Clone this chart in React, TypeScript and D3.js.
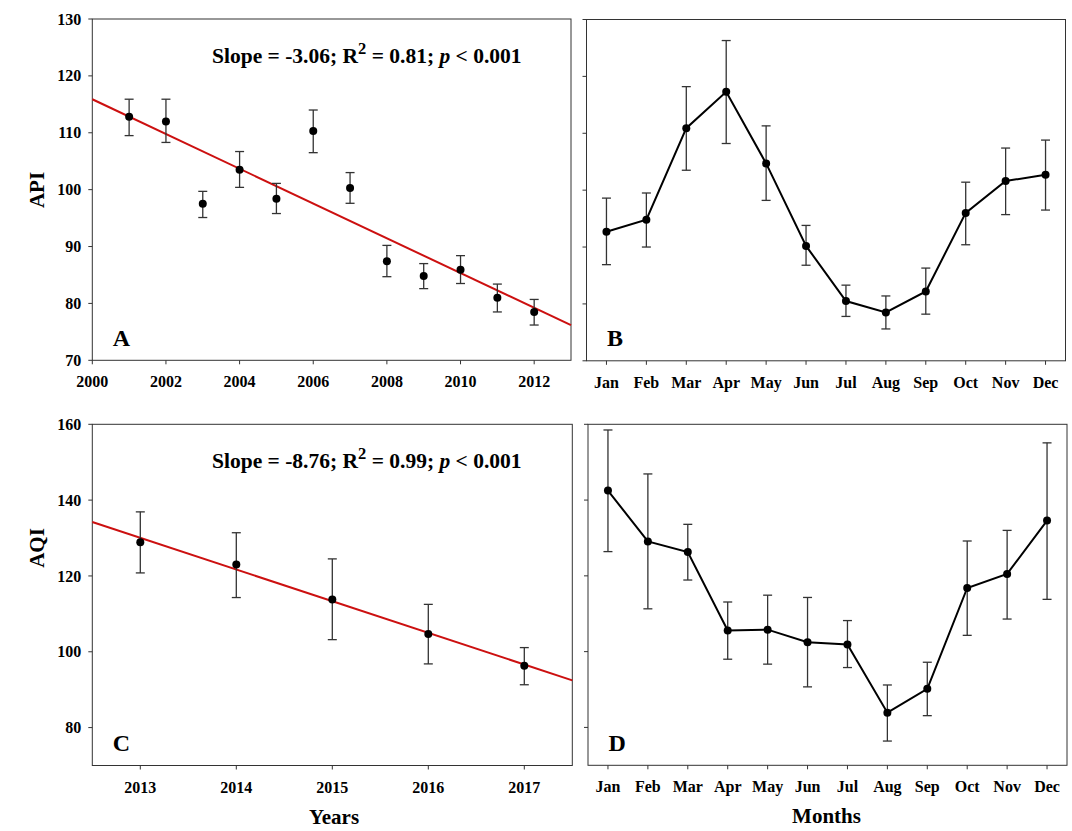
import React from "react";
import * as d3 from "d3";

// ---------- data ----------
const yearsA = [2001, 2002, 2003, 2004, 2005, 2006, 2007, 2008, 2009, 2010, 2011, 2012];
const apiMean = [112.8, 112.0, 97.5, 103.5, 98.4, 110.3, 100.3, 87.4, 84.8, 85.9, 81.0, 78.5];
const apiUpper = [115.9, 115.9, 99.7, 106.7, 101.1, 114.0, 103.0, 90.2, 87.0, 88.4, 83.4, 80.7];
const apiLower = [109.5, 108.3, 95.1, 100.4, 95.8, 106.5, 97.6, 84.7, 82.6, 83.5, 78.5, 76.2];

const months = ["Jan", "Feb", "Mar", "Apr", "May", "Jun", "Jul", "Aug", "Sep", "Oct", "Nov", "Dec"];
const apiMonthMean = [92.7, 94.8, 110.9, 117.3, 104.7, 90.2, 80.5, 78.5, 82.2, 96.0, 101.6, 102.7];
const apiMonthUpper = [98.6, 99.5, 118.2, 126.3, 111.3, 93.8, 83.3, 81.4, 86.3, 101.4, 107.4, 108.8];
const apiMonthLower = [86.9, 90.0, 103.5, 108.2, 98.2, 86.8, 77.8, 75.6, 78.2, 90.4, 95.7, 96.5];

const yearsC = [2013, 2014, 2015, 2016, 2017];
const aqiMean = [128.9, 123.0, 113.8, 104.7, 96.3];
const aqiUpper = [136.9, 131.4, 124.5, 112.5, 101.1];
const aqiLower = [120.8, 114.3, 103.2, 96.8, 91.3];

const aqiMonthMean = [142.5, 129.1, 126.3, 105.6, 105.8, 102.5, 101.9, 83.9, 90.2, 116.8, 120.5, 134.6];
const aqiMonthUpper = [158.5, 146.9, 133.6, 113.1, 114.9, 114.3, 108.2, 91.2, 97.2, 129.2, 132.0, 155.1];
const aqiMonthLower = [126.4, 111.3, 118.9, 98.0, 96.7, 90.7, 95.8, 76.4, 83.1, 104.3, 108.6, 113.8];

const ticksAx = [2000, 2002, 2004, 2006, 2008, 2010, 2012];
const ticksAy = [70, 80, 90, 100, 110, 120, 130];
const ticksCy = [80, 100, 120, 140, 160];

const statsA = { slope: "-3.06", r2: "0.81", p: "0.001" };
const statsC = { slope: "-8.76", r2: "0.99", p: "0.001" };

// ---------- helpers ----------
const FONT = "'Liberation Serif', 'Times New Roman', serif";
const AXIS = "#333";

function regress(xs: number[], ys: number[]) {
  const mx = d3.mean(xs)!;
  const my = d3.mean(ys)!;
  let sxy = 0, sxx = 0;
  xs.forEach((x, i) => {
    sxy += (x - mx) * (ys[i] - my);
    sxx += (x - mx) * (x - mx);
  });
  const b = sxy / sxx;
  return (x: number) => my + b * (x - mx);
}

type PanelProps = {
  x: d3.ScaleLinear<number, number>;
  y: d3.ScaleLinear<number, number>;
  xTicks: { v: number; label: string }[];
  yTicks: number[];
  showYLabels: boolean;
  letter: string;
  xs: number[];
  mean: number[];
  upper: number[];
  lower: number[];
  connect: boolean;
  fit?: (x: number) => number;
  stats?: { slope: string; r2: string; p: string };
};

function Panel(p: PanelProps) {
  const [x0, x1] = p.x.range();
  const [yb, yt] = p.y.range();
  const line = d3
    .line<number>()
    .x((_, i) => p.x(p.xs[i]))
    .y((d) => p.y(d));
  const [dx0, dx1] = p.x.domain();
  return (
    <g>
      <rect x={x0} y={yt} width={x1 - x0} height={yb - yt} fill="none" stroke={AXIS} strokeWidth={1} />
      {p.yTicks.map((t) => (
        <g key={"yt" + t}>
          <line x1={x0 - 4} x2={x0} y1={p.y(t)} y2={p.y(t)} stroke={AXIS} strokeWidth={1} />
          {p.showYLabels && (
            <text x={x0 - 11} y={p.y(t)} dy="0.35em" textAnchor="end" fontSize={16} fontWeight="bold" fontFamily={FONT}>
              {t}
            </text>
          )}
        </g>
      ))}
      {p.xTicks.map((t) => (
        <g key={"xt" + t.label}>
          <line x1={p.x(t.v)} x2={p.x(t.v)} y1={yb} y2={yb + 4} stroke={AXIS} strokeWidth={1} />
          <text x={p.x(t.v)} y={yb + 27} textAnchor="middle" fontSize={16} fontWeight="bold" fontFamily={FONT}>
            {t.label}
          </text>
        </g>
      ))}
      {p.fit && (
        <line x1={x0} x2={x1} y1={p.y(p.fit(dx0))} y2={p.y(p.fit(dx1))} stroke="#cc1010" strokeWidth={2} />
      )}
      {p.connect && <path d={line(p.mean) || ""} fill="none" stroke="#000" strokeWidth={2} />}
      {p.xs.map((xv, i) => {
        const cx = p.x(xv);
        return (
          <g key={"e" + i}>
            <line x1={cx} x2={cx} y1={p.y(p.upper[i])} y2={p.y(p.lower[i])} stroke={AXIS} strokeWidth={1.3} />
            <line x1={cx - 4.5} x2={cx + 4.5} y1={p.y(p.upper[i])} y2={p.y(p.upper[i])} stroke={AXIS} strokeWidth={1.3} />
            <line x1={cx - 4.5} x2={cx + 4.5} y1={p.y(p.lower[i])} y2={p.y(p.lower[i])} stroke={AXIS} strokeWidth={1.3} />
            <circle cx={cx} cy={p.y(p.mean[i])} r={4} fill="#000" />
          </g>
        );
      })}
      {p.stats && (
        <text x={212} y={yt + 44} fontSize={21.5} fontWeight="bold" fontFamily={FONT}>
          <tspan>{`Slope = ${p.stats.slope}; R`}</tspan>
          <tspan fontSize={16.5} dy={-9}>2</tspan>
          <tspan dy={9}>{` = ${p.stats.r2}; `}</tspan>
          <tspan fontStyle="italic">p</tspan>
          <tspan>{` < ${p.stats.p}`}</tspan>
        </text>
      )}
      <text x={x0 + 20.5} y={yb - 14.5} fontSize={24} fontWeight="bold" fontFamily={FONT}>
        {p.letter}
      </text>
    </g>
  );
}

export default function App() {
  const W = 1072, H = 831;
  const xA = d3.scaleLinear().domain([2000, 2013]).range([92.3, 571]);
  const yA = d3.scaleLinear().domain([70, 130]).range([360.3, 19]);
  const xB = d3.scaleLinear().domain([0.5, 12.5]).range([586.5, 1065.5]);
  const yB = d3.scaleLinear().domain([70, 130]).range([360.8, 19.5]);
  const xC = d3.scaleLinear().domain([2012.5, 2017.5]).range([92.3, 572.3]);
  const yC = d3.scaleLinear().domain([70, 160]).range([765.5, 424.3]);
  const xD = d3.scaleLinear().domain([0.5, 12.5]).range([588, 1067]);
  const yD = d3.scaleLinear().domain([70, 160]).range([765.3, 424.3]);

  const monthIdx = months.map((_, i) => i + 1);
  const monthTicks = months.map((m, i) => ({ v: i + 1, label: m }));

  return (
    <div style={{ position: "absolute", left: 0, top: 0 }}>
      <svg width={W} height={H} viewBox={`0 0 ${W} ${H}`} style={{ display: "block", background: "#fff" }}>
        <Panel
          x={xA} y={yA}
          xTicks={ticksAx.map((v) => ({ v, label: String(v) }))}
          yTicks={ticksAy} showYLabels letter="A"
          xs={yearsA} mean={apiMean} upper={apiUpper} lower={apiLower}
          connect={false} fit={regress(yearsA, apiMean)} stats={statsA}
        />
        <Panel
          x={xB} y={yB} xTicks={monthTicks} yTicks={ticksAy} showYLabels={false} letter="B"
          xs={monthIdx} mean={apiMonthMean} upper={apiMonthUpper} lower={apiMonthLower} connect
        />
        <Panel
          x={xC} y={yC}
          xTicks={yearsC.map((v) => ({ v, label: String(v) }))}
          yTicks={ticksCy} showYLabels letter="C"
          xs={yearsC} mean={aqiMean} upper={aqiUpper} lower={aqiLower}
          connect={false} fit={regress(yearsC, aqiMean)} stats={statsC}
        />
        <Panel
          x={xD} y={yD} xTicks={monthTicks} yTicks={ticksCy} showYLabels={false} letter="D"
          xs={monthIdx} mean={aqiMonthMean} upper={aqiMonthUpper} lower={aqiMonthLower} connect
        />
        <text transform="translate(44,190) rotate(-90)" textAnchor="middle" fontSize={21} fontWeight="bold" fontFamily={FONT}>API</text>
        <text transform="translate(44,548) rotate(-90)" textAnchor="middle" fontSize={21} fontWeight="bold" fontFamily={FONT}>AQI</text>
        <text x={334} y={824} textAnchor="middle" fontSize={21} fontWeight="bold" fontFamily={FONT}>Years</text>
        <text x={826.5} y={823.3} textAnchor="middle" fontSize={21} fontWeight="bold" fontFamily={FONT}>Months</text>
      </svg>
    </div>
  );
}
